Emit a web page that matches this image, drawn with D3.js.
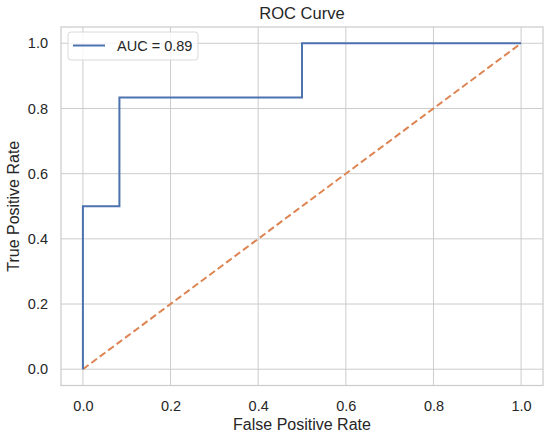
<!DOCTYPE html>
<html lang="en">
<head>
<meta charset="UTF-8">
<title>ROC Curve</title>
<style>
  body { margin: 0; background: #fff; }
  text { font-family: "Liberation Sans", Arial, sans-serif; fill: #262626; }
  .grid line { stroke: #cccccc; stroke-width: 1; }
</style>
<script src="https://d3js.org/d3.v7.min.js"></script>
</head>
<body>
<div id="chart"></div>
<script>
  // ROC curve points
  var fpr = [0, 0, 0.0833, 0.0833, 0.5, 0.5, 1];
  var tpr = [0, 0.5, 0.5, 0.8333, 0.8333, 1, 1];
  var chanceX = [0, 1];
  var chanceY = [0, 1];
  var ticks = [0, 0.2, 0.4, 0.6, 0.8, 1.0];
  var legendLabel = "AUC = 0.89";

  var width = 550, height = 438;
  var margin = { top: 27, right: 7, bottom: 52.5, left: 61 };

  var svg = d3.select("#chart").append("svg")
    .attr("width", width)
    .attr("height", height);

  var x = d3.scaleLinear().domain([-0.05, 1.05]).range([margin.left, width - margin.right]);
  var y = d3.scaleLinear().domain([-0.05, 1.05]).range([height - margin.bottom, margin.top]);

  // grid
  var grid = svg.append("g").attr("class", "grid");
  grid.selectAll(".gx").data(ticks).enter().append("line")
    .attr("x1", d => x(d)).attr("x2", d => x(d))
    .attr("y1", y.range()[0]).attr("y2", y.range()[1]);
  grid.selectAll(".gy").data(ticks).enter().append("line")
    .attr("y1", d => y(d)).attr("y2", d => y(d))
    .attr("x1", x.range()[0]).attr("x2", x.range()[1]);

  // frame
  svg.append("rect")
    .attr("x", x.range()[0]).attr("y", y.range()[1])
    .attr("width", x.range()[1] - x.range()[0])
    .attr("height", y.range()[0] - y.range()[1])
    .attr("fill", "none").attr("stroke", "#cccccc").attr("stroke-width", 1.25);

  // axes (labels only, whitegrid style has no tick marks)
  var xAxis = svg.append("g")
    .attr("transform", "translate(0," + y.range()[0] + ")")
    .call(d3.axisBottom(x).tickValues(ticks).tickFormat(d3.format(".1f")).tickSize(0).tickPadding(15));
  var yAxis = svg.append("g")
    .attr("transform", "translate(" + x.range()[0] + ",0)")
    .call(d3.axisLeft(y).tickValues(ticks).tickFormat(d3.format(".1f")).tickSize(0).tickPadding(13));
  [xAxis, yAxis].forEach(a => {
    a.attr("font-size", null).attr("font-family", null);
    a.select(".domain").remove();
    a.selectAll("text").style("font-size", "14.5px").attr("fill", "#262626");
  });

  // chance line
  var line = d3.line().x(d => x(d[0])).y(d => y(d[1]));
  svg.append("path")
    .datum(d3.zip(chanceX, chanceY))
    .attr("d", line)
    .attr("fill", "none")
    .attr("stroke", "#dd8452")
    .attr("stroke-width", 2)
    .attr("stroke-dasharray", "7,3.5");

  // ROC curve
  svg.append("path")
    .datum(d3.zip(fpr, tpr))
    .attr("d", line)
    .attr("fill", "none")
    .attr("stroke", "#4c72b0")
    .attr("stroke-width", 2);

  // title and labels
  svg.append("text")
    .attr("x", (x.range()[0] + x.range()[1]) / 2).attr("y", 19)
    .attr("text-anchor", "middle").style("font-size", "16.5px")
    .text("ROC Curve");
  svg.append("text")
    .attr("x", (x.range()[0] + x.range()[1]) / 2).attr("y", 430)
    .attr("text-anchor", "middle").style("font-size", "16px")
    .text("False Positive Rate");
  svg.append("text")
    .attr("transform", "translate(18.5," + ((y.range()[0] + y.range()[1]) / 2) + ") rotate(-90)")
    .attr("text-anchor", "middle").style("font-size", "16px")
    .text("True Positive Rate");

  // legend
  var lg = svg.append("g").attr("transform", "translate(68,32)");
  lg.append("rect")
    .attr("width", 130).attr("height", 28).attr("rx", 3)
    .attr("fill", "#fff").attr("fill-opacity", 0.8)
    .attr("stroke", "#d9d9d9").attr("stroke-width", 1);
  lg.append("line")
    .attr("x1", 5).attr("x2", 37).attr("y1", 13.5).attr("y2", 13.5)
    .attr("stroke", "#4c72b0").attr("stroke-width", 2);
  lg.append("text")
    .attr("x", 49).attr("y", 19).style("font-size", "14.5px")
    .text(legendLabel);
</script>
</body>
</html>
